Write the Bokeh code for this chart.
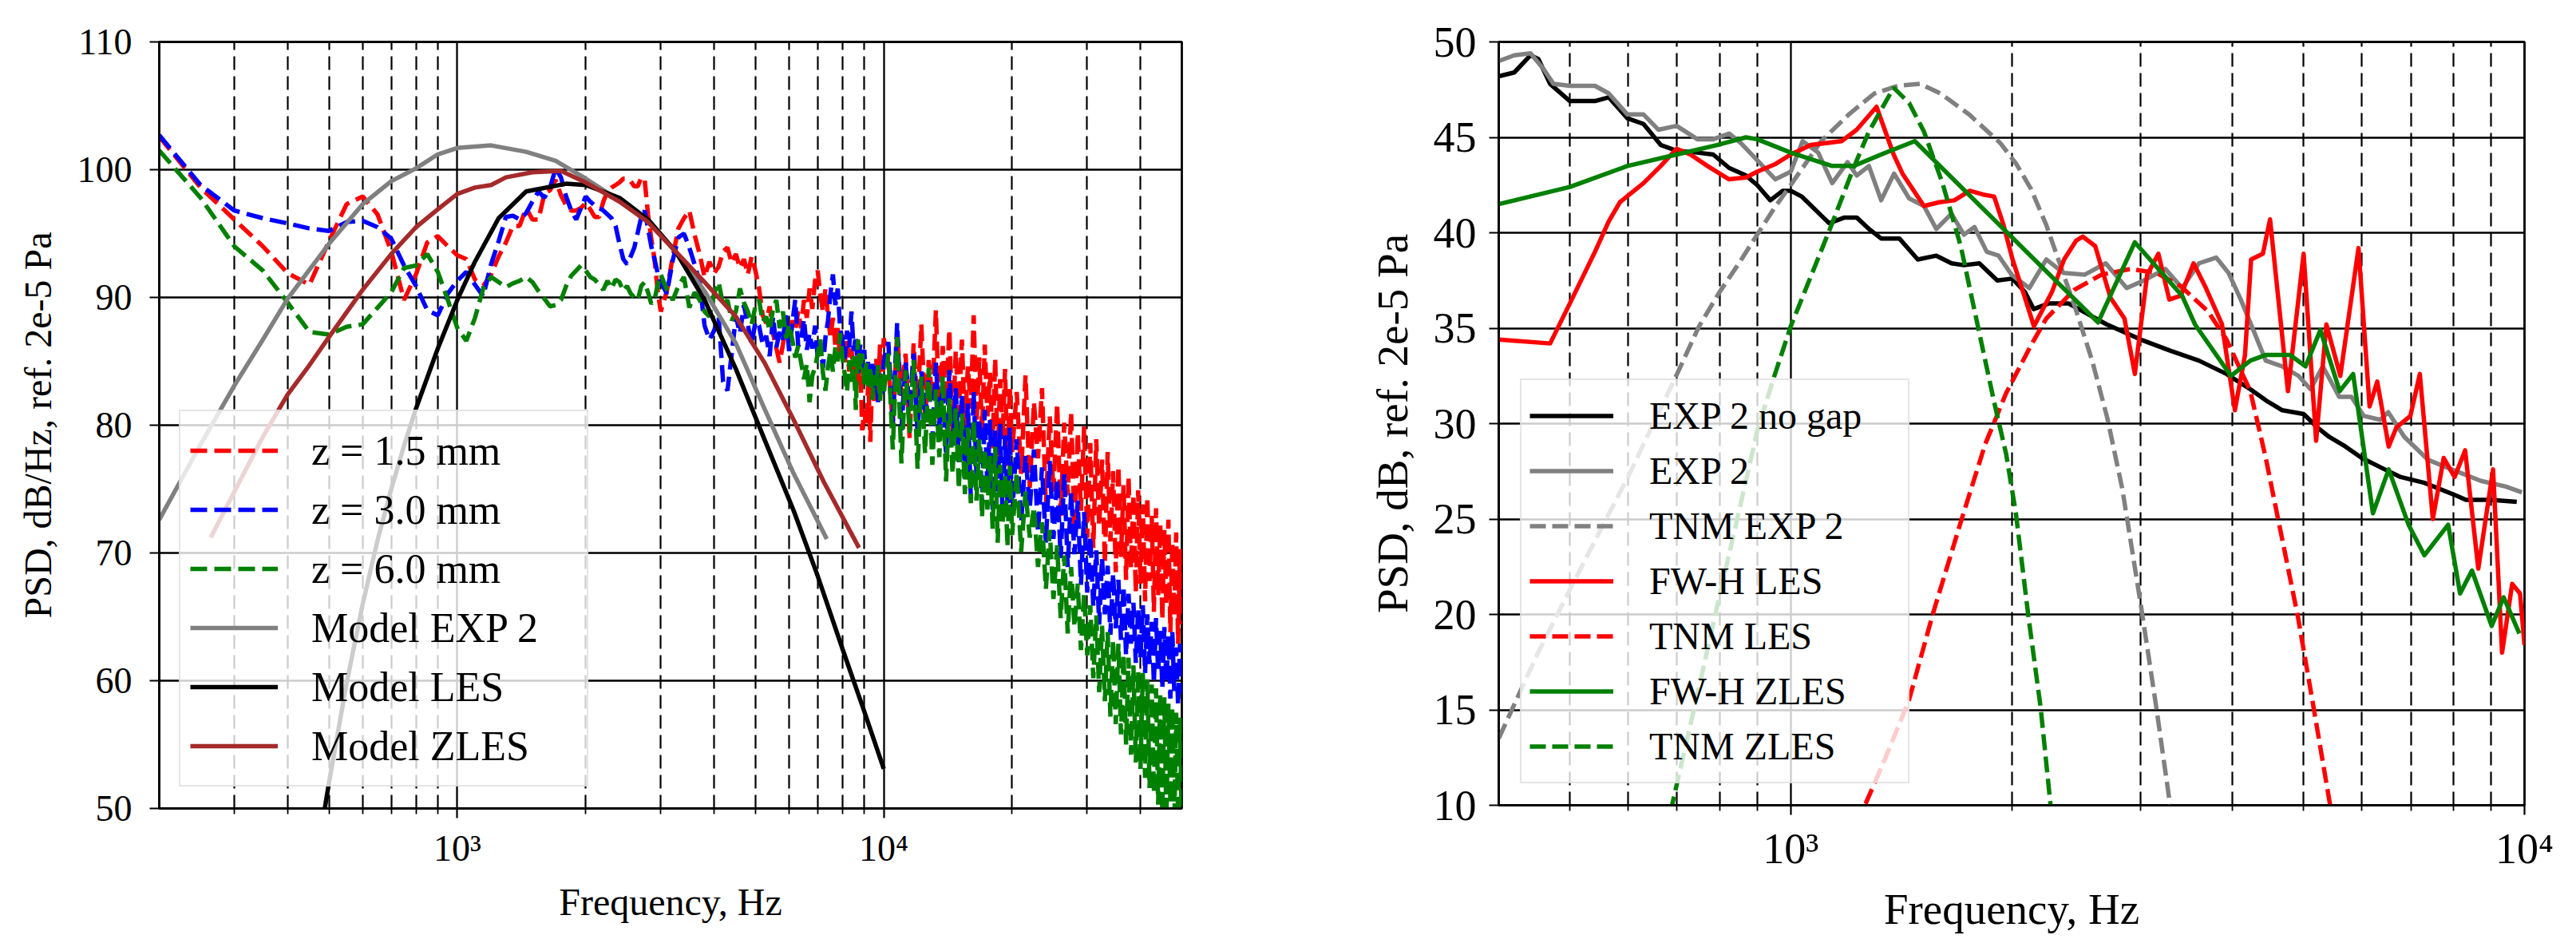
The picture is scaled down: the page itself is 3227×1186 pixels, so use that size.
import numpy as np
from bokeh.plotting import figure
from bokeh.layouts import row
from bokeh.models import Legend, LegendItem, FixedTicker, Range1d
from bokeh.embed import file_html
from bokeh.resources import INLINE

FONT = "Liberation Serif"

# ---------------- left panel data ----------------
freq_seg_a = np.arange(200, 3001, 50)
freq_seg_b = np.arange(3100, 10001, 100)
freq_seg_c1 = np.arange(10250, 20001, 250)
freq_seg_c2 = np.arange(20500, 50001, 500)
freq_exp = np.concatenate([freq_seg_a, freq_seg_b, freq_seg_c1, freq_seg_c2])

z15_a = [102.6, 98.6, 96.1, 94.0, 91.9, 91.0, 94.4, 97.3, 97.9, 96.5,
         93.6, 89.8, 91.8, 94.3, 94.8, 94.0, 93.3, 93.0, 91.4, 90.9,
         91.8, 93.2, 94.3, 95.6, 95.6, 97.0, 96.1, 96.1, 98.1, 98.4,
         99.2, 98.0, 97.2, 96.8, 96.8, 97.0, 97.4, 96.9, 96.3, 96.3,
         97.5, 98.3, 98.6, 98.8, 99.0, 99.3, 99.3, 99.1, 98.7, 98.7,
         99.4, 99.2, 96.5, 94.6, 93.0, 90.5, 88.9]
z15_b = [90.5, 93.2, 95.4, 96.2, 96.8, 94.9, 93.4, 91.6, 92.8, 91.9,
         92.4, 93.6, 93.9, 92.7, 93.4, 92.3, 93.0, 91.8, 93.2, 92.1,
         90.7, 88.6, 88.0, 89.3, 87.2, 86.0, 84.9, 86.3, 87.8, 86.9,
         88.2, 87.4, 88.9, 87.6, 89.8, 88.4, 90.7, 89.1, 91.3, 92.1,
         90.2, 88.9, 90.7, 88.5, 86.9, 88.4, 86.2, 87.6, 85.3, 87.1,
         84.8, 86.7, 84.2, 86.0, 83.6, 85.4, 82.9, 85.4, 79.6, 81.2,
         80.0, 83.5, 78.7, 84.1, 81.9, 85.2, 82.4, 86.3, 83.0, 86.8]
z15_c1 = [84.8, 80.1, 87.2, 82.3, 85.6, 79.0, 86.4, 81.2, 87.9, 80.6,
          85.1, 82.0, 89.0, 80.4, 86.2, 81.7, 87.5, 79.3, 85.8, 80.9,
          86.7, 79.8, 84.6, 81.3, 88.6, 80.2, 85.3, 79.5, 86.3, 80.7,
          84.1, 78.2, 85.2, 77.5, 83.6, 79.1, 84.4, 76.8, 83.0, 77.9]
z15_c2 = [82.6, 76.2, 83.9, 75.1, 81.8, 77.4, 82.9, 73.6, 80.7, 74.8,
          81.7, 72.9, 80.2, 74.5, 81.0, 71.8, 79.4, 73.3, 79.9, 71.2,
          78.6, 70.4, 78.9, 72.1, 77.3, 69.2, 77.9, 70.9, 76.4, 68.5,
          76.8, 69.7, 75.3, 67.9, 76.0, 68.8, 74.6, 66.9, 74.9, 67.6,
          73.8, 66.2, 74.4, 67.8, 72.9, 65.4, 73.5, 66.7, 72.2, 64.8,
          71.8, 65.9, 72.6, 63.8, 70.9, 65.1, 71.6, 62.9, 70.3, 64.4]

z30_a = [102.7, 98.8, 96.8, 96.2, 95.8, 95.4, 95.2, 95.9, 96.0, 95.5,
         94.6, 92.5, 90.9, 89.0, 88.6, 90.3, 91.3, 92.0, 91.0, 90.1,
         92.6, 94.4, 96.3, 96.4, 96.1, 96.6, 97.5, 98.3, 97.8, 98.6,
         100.1, 99.4, 97.9, 96.8, 96.1, 97.0, 97.9, 97.5, 97.2, 97.0,
         96.8, 96.5, 96.2, 95.6, 94.2, 93.0, 92.6, 93.2, 93.9, 95.1,
         96.3, 96.8, 95.4, 94.0, 93.0, 91.9, 91.2]
z30_b = [90.3, 92.9, 94.7, 95.0, 93.9, 92.6, 91.2, 87.8, 86.7, 87.4,
         88.5, 83.4, 82.7, 85.6, 88.5, 87.2, 89.4, 87.9, 86.3, 88.1,
         87.8, 86.3, 87.0, 85.4, 88.5, 86.1, 87.3, 86.7, 88.6, 85.8,
         87.9, 89.8, 86.2, 86.7, 88.3, 85.9, 87.2, 86.0, 87.8, 85.3,
         86.4, 84.5, 86.9, 88.2, 90.3, 91.8, 89.4, 90.7, 87.6, 86.7,
         85.2, 87.4, 86.1, 88.9, 85.8, 87.0, 84.1, 86.3, 84.5, 85.9,
         83.2, 85.1, 83.4, 84.8, 82.6, 84.9, 81.8, 84.2, 82.2, 85.0]
z30_c1 = [86.5, 80.2, 88.0, 79.6, 84.9, 81.3, 85.6, 79.4, 84.2, 80.5,
          83.6, 78.8, 84.9, 79.9, 83.1, 77.6, 84.3, 78.4, 82.9, 77.1,
          82.4, 75.8, 81.7, 74.3, 82.6, 76.1, 80.5, 73.7, 81.2, 75.0,
          80.4, 73.4, 79.6, 74.8, 80.1, 72.6, 79.2, 73.9, 79.8, 72.9]
z30_c2 = [78.9, 72.4, 77.6, 73.5, 78.1, 71.6, 76.7, 70.8, 77.2, 71.1,
          75.8, 69.6, 76.2, 68.9, 74.7, 69.9, 74.1, 67.5, 73.2, 66.9,
          71.3, 65.8, 70.2, 64.4, 69.6, 65.2, 69.0, 63.6, 68.4, 64.1,
          67.9, 63.2, 67.4, 62.0, 66.8, 62.9, 66.1, 61.4, 65.7, 61.8,
          65.9, 60.6, 65.2, 61.3, 64.6, 59.8, 64.9, 60.7, 63.9, 59.4,
          64.2, 59.9, 63.5, 58.6, 63.8, 59.2, 62.6, 58.1, 62.9, 59.0]

z60_a = [101.5, 97.8, 94.0, 92.1, 89.6, 87.3, 87.1, 87.7, 87.9, 89.2,
         90.4, 92.3, 92.5, 93.4, 92.0, 89.8, 87.6, 86.6, 88.4, 90.7,
         91.6, 91.2, 90.8, 91.1, 91.3, 91.6, 91.2, 90.5, 89.9, 89.3,
         89.4, 89.8, 90.9, 91.7, 92.1, 92.5, 92.1, 91.6, 91.4, 91.0,
         90.6, 91.3, 90.7, 91.4, 91.2, 90.5, 90.9, 90.3, 90.0, 89.8,
         90.9, 91.2, 90.4, 89.5, 89.8, 91.0, 91.8]
z60_b = [90.6, 89.8, 90.9, 91.6, 89.2, 90.4, 89.8, 88.9, 88.5, 90.3,
         91.2, 89.4, 89.8, 88.2, 88.9, 90.7, 89.6, 88.9, 87.9, 89.3,
         89.8, 88.1, 88.5, 87.4, 89.1, 89.8, 87.6, 88.9, 86.8, 87.9,
         86.7, 85.3, 86.2, 84.9, 83.6, 84.8, 81.8, 83.9, 84.5, 85.6,
         86.7, 84.1, 82.7, 84.6, 85.8, 84.2, 86.1, 85.0, 87.2, 85.3,
         84.0, 82.6, 85.1, 83.4, 85.4, 81.2, 86.7, 84.3, 85.6, 83.1,
         84.9, 82.8, 84.6, 82.0, 83.9, 83.1, 84.7, 81.9, 84.0, 82.5]
z60_c1 = [85.6, 78.1, 86.9, 77.0, 84.3, 79.4, 85.1, 76.6, 83.8, 77.8,
          84.5, 76.9, 82.8, 77.5, 83.9, 75.6, 82.1, 76.2, 81.3, 75.0,
          80.9, 74.6, 79.8, 73.9, 80.4, 74.1, 78.9, 72.8, 78.2, 73.4,
          77.6, 71.9, 78.3, 70.8, 76.9, 72.2, 76.1, 70.5, 76.8, 71.4]
z60_c2 = [76.3, 70.1, 74.8, 71.2, 73.6, 68.9, 72.4, 67.2, 71.8, 66.4,
          70.6, 64.9, 69.8, 63.7, 68.9, 64.2, 67.6, 62.4, 66.8, 62.0,
          65.9, 60.2, 65.1, 59.1, 64.3, 58.4, 63.8, 57.2, 63.2, 56.6,
          62.9, 55.8, 62.1, 55.0, 61.8, 54.2, 61.2, 53.6, 60.8, 53.1,
          60.6, 52.4, 60.1, 51.6, 59.7, 51.2, 59.4, 50.3, 59.0, 49.6,
          58.7, 49.1, 58.2, 50.4, 57.9, 48.6, 57.5, 49.3, 57.1, 48.2]

z15_db = z15_a + z15_b + z15_c1 + z15_c2
z30_db = z30_a + z30_b + z30_c1 + z30_c2
z60_db = z60_a + z60_b + z60_c1 + z60_c2
for arr in (z15_db, z30_db, z60_db):
    assert len(arr) == len(freq_exp), (len(arr), len(freq_exp))

model_exp2_f = [200, 250, 300, 350, 400, 500, 600, 700, 800, 900, 1000, 1200,
                1450, 1700, 2000, 2400, 2800, 3250, 3800, 4500, 5250, 6150, 7350]
model_exp2_db = [72.6, 78.5, 83.1, 86.7, 89.9, 94.2, 97.3, 99.1, 100.1, 101.2, 101.7, 101.9,
                 101.4, 100.7, 99.3, 97.6, 95.9, 93.6, 90.5, 86.4, 81.3, 76.2, 71.1]

model_les_f = [470, 500, 550, 600, 650, 700, 750, 800, 900, 1000, 1100, 1250, 1450,
               1800, 2000, 2400, 2800, 3250, 3800, 4500, 5250, 6150, 7000, 8000, 9000, 10000]
model_les_db = [46.5, 52.0, 59.8, 66.0, 71.0, 75.0, 78.4, 81.3, 86.0, 89.8, 92.8, 96.2, 98.3,
                98.9, 98.8, 97.8, 96.1, 93.6, 89.8, 84.4, 78.9, 73.3, 68.2, 62.5, 57.6, 53.1]

model_zles_f = [264, 300, 350, 400, 450, 500, 600, 700, 800, 900, 1000, 1100, 1200,
                1300, 1500, 1750, 2000, 2400, 2800, 3250, 3800, 4500, 5250, 6150, 7250, 8750]
model_zles_db = [71.2, 74.8, 79.1, 82.4, 84.7, 86.9, 90.6, 93.4, 95.5, 96.9, 98.1, 98.6, 98.8,
                 99.4, 99.8, 99.9, 99.0, 97.5, 95.9, 93.6, 91.2, 88.5, 84.9, 80.4, 75.5, 70.4]

# ---------------- right panel data ----------------
nogap_f = [400, 420, 442, 453, 470, 500, 541, 565, 599, 630, 665, 699, 746, 784, 824,
           869, 900, 938, 975, 1000, 1035, 1128, 1184, 1230, 1278, 1328, 1406, 1490, 1579, 1656,
           1722, 1807, 1912, 2005, 2085, 2143, 2249, 2389, 2695, 3000, 3300, 3600, 3926, 4230, 4448,
           4676, 5000, 5220, 5419, 5700, 6000, 6450, 6780, 7300, 8100, 8320, 9000, 9760]
nogap_db = [48.2, 48.4, 49.3, 49.1, 47.8, 46.9, 46.9, 47.1, 46.0, 45.7, 44.6, 44.3, 44.2, 44.1, 43.4,
            43.0, 42.5, 41.7, 42.2, 42.2, 41.9, 40.5, 40.8, 40.8, 40.2, 39.7, 39.7, 38.6, 38.8, 38.4,
            38.3, 38.4, 37.5, 37.6, 36.9, 36.0, 36.3, 36.3, 35.2, 34.4, 33.8, 33.3, 32.6, 31.8, 31.2,
            30.7, 30.5, 29.8, 29.3, 28.8, 28.2, 27.6, 27.2, 26.9, 26.2, 26.0, 26.0, 25.9]

exp2_f = [400, 420, 442, 460, 475, 500, 541, 565, 599, 630, 660, 699, 746, 784, 824,
          855, 900, 953, 1000, 1038, 1090, 1139, 1195, 1230, 1278, 1328, 1383, 1450, 1519, 1579,
          1656, 1722, 1780, 1850, 1920, 2000, 2114, 2230, 2352, 2514, 2687, 2870, 3028, 3240, 3415,
          3600, 3800, 3950, 4105, 4270, 4440, 4676, 4920, 5110, 5310, 5590, 5810, 6040, 6360, 6520,
          6860, 7390, 7960, 8720, 9430, 9920]
exp2_db = [49.0, 49.3, 49.4, 48.6, 47.8, 47.7, 47.7, 47.3, 46.2, 46.2, 45.4, 45.6, 44.9, 44.9, 45.2,
           44.7, 43.8, 42.8, 43.2, 44.8, 44.2, 42.6, 43.7, 43.0, 43.5, 41.7, 43.1, 41.8, 41.4, 40.2,
           41.0, 39.9, 40.3, 39.0, 38.8, 37.8, 37.1, 38.6, 37.9, 37.8, 38.4, 37.1, 37.5, 38.1, 37.1,
           38.4, 38.7, 37.9, 36.5, 34.9, 33.3, 33.0, 32.5, 31.8, 33.0, 31.4, 31.4, 30.4, 30.2, 30.6,
           29.3, 28.1, 27.6, 27.0, 26.7, 26.4]

tnm_exp2_f = [400, 450, 500, 550, 600, 650, 700, 750, 800, 850, 900, 950, 1000, 1100, 1200, 1300,
              1400, 1500, 1600, 1750, 1930, 2030, 2125, 2230, 2340, 2450, 2575, 2700, 2830, 3000,
              3150, 3300]
tnm_exp2_db = [13.5, 17.8, 21.3, 24.4, 27.2, 30.0, 32.6, 35.1, 36.9, 38.4, 39.9, 41.3, 42.5, 44.8,
               46.2, 47.3, 47.7, 47.8, 47.3, 46.2, 44.7, 43.6, 42.3, 40.4, 38.1, 35.9, 33.3, 30.3,
               26.6, 20.5, 15.1, 9.6]

fwh_les_f = [400, 470, 503, 541, 565, 585, 630, 665, 699, 730, 770, 824, 869, 900, 953,
             1000, 1065, 1173, 1230, 1309, 1381, 1420, 1519, 1594, 1671, 1754, 1830, 1893, 1950, 2006,
             2085, 2145, 2270, 2358, 2450, 2500, 2600, 2727, 2850, 2944, 3060, 3170, 3280, 3400, 3540,
             3680, 3870, 4030, 4160, 4240, 4400, 4500, 4760, 5000, 5200, 5370, 5610, 5940, 6150, 6300,
             6530, 6690, 6990, 7200, 7500, 7760, 8030, 8300, 8650, 9060, 9320, 9620, 9860, 10000]
fwh_les_db = [34.4, 34.2, 36.5, 39.0, 40.6, 41.6, 42.6, 43.5, 44.4, 44.1, 43.5, 42.8, 42.9, 43.2, 43.6,
              44.1, 44.6, 44.8, 45.4, 46.6, 44.1, 43.1, 41.4, 41.6, 41.7, 42.2, 42.0, 41.9, 40.4, 38.6,
              36.6, 35.1, 36.9, 38.6, 39.6, 39.8, 39.3, 36.6, 35.5, 32.6, 37.8, 38.9, 36.5, 36.7, 38.4,
              37.1, 35.2, 30.7, 33.6, 38.6, 38.9, 40.7, 31.7, 38.9, 29.1, 35.2, 32.5, 39.2, 30.9, 32.2,
              28.8, 29.8, 30.4, 32.6, 25.0, 28.2, 27.2, 28.6, 22.4, 27.6, 18.0, 21.6, 21.1, 18.4]

tnm_les_f = [1230, 1350, 1449, 1564, 1710, 1840, 1966, 2125, 2229, 2433, 2650, 2900, 3150, 3400,
             3700, 3926, 4230, 4440, 4615, 4910, 5160, 5423, 5480]
tnm_les_db = [9.0, 12.6, 15.5, 20.1, 25.0, 28.9, 31.6, 34.1, 35.5, 37.0, 37.8, 38.1, 37.9, 37.2,
              35.9, 34.4, 31.7, 28.2, 25.0, 19.9, 15.1, 10.2, 9.2]

fwh_zles_f = [400, 500, 599, 699, 794, 869, 900, 1000, 1139, 1218, 1328, 1476, 2623, 2944, 3415,
              3555, 3980, 4230, 4446, 4790, 5030, 5270, 5600, 5840, 6215, 6530, 6950, 7304, 7870,
              8170, 8480, 9020, 9366, 9840]
fwh_zles_db = [41.5, 42.4, 43.5, 44.1, 44.6, 45.0, 44.9, 44.2, 43.5, 43.5, 44.1, 44.8, 35.3, 39.5, 36.7,
               35.2, 32.5, 33.3, 33.6, 33.6, 33.0, 34.9, 31.7, 32.6, 25.3, 27.6, 24.7, 23.1, 24.7,
               21.1, 22.3, 19.4, 20.9, 19.0]

tnm_zles_f = [675, 750, 800, 850, 900, 950, 1000, 1070, 1139, 1218, 1278, 1381, 1450, 1519, 1610,
              1705, 1806, 1894, 1966, 2027, 2108, 2191, 2275]
tnm_zles_db = [8.5, 16.2, 21.0, 25.4, 29.6, 32.5, 35.1, 37.9, 40.5, 43.4, 45.3, 47.6, 46.8, 45.3, 42.6,
               39.3, 34.8, 31.1, 28.4, 25.3, 19.9, 15.1, 8.9]

left_xticks = [1000, 10000]
left_xminor = [300, 400, 500, 600, 700, 800, 900, 2000, 3000, 4000, 5000, 6000, 7000, 8000, 9000,
               20000, 30000, 40000]
left_yticks = [50, 60, 70, 80, 90, 100, 110]
right_xticks = [1000, 10000]
right_xminor = [500, 600, 700, 800, 900, 2000, 3000, 4000, 5000, 6000, 7000, 8000, 9000]
right_yticks = [10, 15, 20, 25, 30, 35, 40, 45, 50]
xtick_labels = {1000: "10³", 10000: "10⁴"}


def style(p, xticks, xminor, yticks, tick_px, label_px, ylabel, ytick_standoff, ylabel_standoff):
    xt = FixedTicker(ticks=xticks, minor_ticks=xminor)
    yt = FixedTicker(ticks=yticks)
    p.xaxis.ticker = xt
    p.xgrid.ticker = xt
    p.yaxis.ticker = yt
    p.ygrid.ticker = yt
    p.xaxis.major_label_overrides = xtick_labels
    for ax in (p.xaxis, p.yaxis):
        ax.major_label_text_font = FONT
        ax.major_label_text_font_size = tick_px
        ax.major_label_text_color = "black"
        ax.axis_label_text_font = FONT
        ax.axis_label_text_font_size = label_px
        ax.axis_label_text_font_style = "normal"
        ax.axis_label_text_color = "black"
        ax.axis_line_color = "black"
        ax.axis_line_width = 2.5
        ax.major_tick_line_color = "black"
        ax.major_tick_line_width = 2.2
        ax.major_tick_out = 12
        ax.major_tick_in = 0
        ax.minor_tick_line_color = "black"
        ax.minor_tick_line_width = 1.8
        ax.minor_tick_out = 7
        ax.minor_tick_in = 0
    p.yaxis.minor_tick_out = 0
    p.xaxis.axis_label = "Frequency, Hz"
    p.yaxis.axis_label = ylabel
    p.xaxis.major_label_standoff = 12
    p.xaxis.axis_label_standoff = 12
    p.yaxis.major_label_standoff = ytick_standoff
    p.yaxis.axis_label_standoff = ylabel_standoff
    p.xgrid.grid_line_color = "black"
    p.xgrid.grid_line_width = 2.3
    p.xgrid.minor_grid_line_color = "black"
    p.xgrid.minor_grid_line_width = 2.2
    p.xgrid.minor_grid_line_dash = "17 8"
    p.ygrid.grid_line_color = "black"
    p.ygrid.grid_line_width = 2.3
    p.outline_line_color = "black"
    p.outline_line_width = 2.8
    p.outline_line_alpha = 1.0
    p.background_fill_color = "white"
    p.border_fill_color = "white"


LW = 5.5
DASH = "21 9"

# ---------------- left figure ----------------
p1 = figure(x_axis_type="log", x_range=Range1d(200, 50000), y_range=Range1d(50, 110),
            frame_width=1281, frame_height=960, min_border_left=199, min_border_right=120,
            min_border_top=49, min_border_bottom=150, output_backend="svg", toolbar_location=None)
style(p1, left_xticks, left_xminor, left_yticks, "46px", "48px",
      "PSD, dB/Hz, ref. 2e-5 Pa", 22, 20)

r_z15 = p1.line(freq_exp, z15_db, line_color="#ff0000", line_width=LW, line_dash=DASH)
r_z30 = p1.line(freq_exp, z30_db, line_color="#0000ff", line_width=LW, line_dash=DASH)
r_z60 = p1.line(freq_exp, z60_db, line_color="#008000", line_width=LW, line_dash=DASH)
r_mexp = p1.line(model_exp2_f, model_exp2_db, line_color="#808080", line_width=LW, line_join="round")
r_mles = p1.line(model_les_f, model_les_db, line_color="black", line_width=LW, line_join="round")
r_mzles = p1.line(model_zles_f, model_zles_db, line_color="#a52a2a", line_width=LW, line_join="round")

leg1 = Legend(items=[
    LegendItem(label="z = 1.5 mm", renderers=[r_z15]),
    LegendItem(label="z = 3.0 mm", renderers=[r_z30]),
    LegendItem(label="z = 6.0 mm", renderers=[r_z60]),
    LegendItem(label="Model EXP 2", renderers=[r_mexp]),
    LegendItem(label="Model LES", renderers=[r_mles]),
    LegendItem(label="Model ZLES", renderers=[r_mzles]),
], location=(25, 27))
leg1.glyph_width = 110
leg1.glyph_height = 74
leg1.label_height = 74
leg1.label_width = 333
leg1.spacing = 0
leg1.padding = 12
leg1.margin = 0
leg1.label_standoff = 42
leg1.label_text_font = FONT
leg1.label_text_font_size = "52px"
leg1.label_text_color = "black"
leg1.border_line_color = "#cccccc"
leg1.border_line_width = 2
leg1.background_fill_alpha = 0.8
p1.add_layout(leg1)

# ---------------- right figure ----------------
p2 = figure(x_axis_type="log", x_range=Range1d(400, 10000), y_range=Range1d(10, 50),
            frame_width=1285, frame_height=956, min_border_left=277, min_border_right=40,
            min_border_top=52, min_border_bottom=150, output_backend="svg", toolbar_location=None)
style(p2, right_xticks, right_xminor, right_yticks, "54px", "55px",
      "PSD, dB, ref. 2e-5 Pa", 16, 18)

RDASH = "20 8"
g_nogap = p2.line(nogap_f, nogap_db, line_color="black", line_width=LW, line_join="round")
g_exp2 = p2.line(exp2_f, exp2_db, line_color="#808080", line_width=LW, line_join="round")
g_tnm_exp2 = p2.line(tnm_exp2_f, tnm_exp2_db, line_color="#808080", line_width=LW, line_dash=RDASH)
g_fwh_les = p2.line(fwh_les_f, fwh_les_db, line_color="#ff0000", line_width=LW, line_join="round")
g_tnm_les = p2.line(tnm_les_f, tnm_les_db, line_color="#ff0000", line_width=LW, line_dash=RDASH)
g_fwh_zles = p2.line(fwh_zles_f, fwh_zles_db, line_color="#008000", line_width=LW, line_join="round")
g_tnm_zles = p2.line(tnm_zles_f, tnm_zles_db, line_color="#008000", line_width=LW, line_dash=RDASH)

leg2 = Legend(items=[
    LegendItem(label="EXP 2 no gap", renderers=[g_nogap]),
    LegendItem(label="EXP 2", renderers=[g_exp2]),
    LegendItem(label="TNM EXP 2", renderers=[g_tnm_exp2]),
    LegendItem(label="FW-H LES", renderers=[g_fwh_les]),
    LegendItem(label="TNM LES", renderers=[g_tnm_les]),
    LegendItem(label="FW-H ZLES", renderers=[g_fwh_zles]),
    LegendItem(label="TNM ZLES", renderers=[g_tnm_zles]),
], location=(27, 27))
leg2.glyph_width = 105
leg2.glyph_height = 69
leg2.label_height = 69
leg2.label_width = 314
leg2.spacing = 0
leg2.padding = 10
leg2.margin = 0
leg2.label_standoff = 45
leg2.label_text_font = FONT
leg2.label_text_font_size = "48px"
leg2.label_text_color = "black"
leg2.border_line_color = "#cccccc"
leg2.border_line_width = 2
leg2.background_fill_alpha = 0.8
p2.add_layout(leg2)

layout = row(p1, p2)
open("out.html", "w").write(file_html(layout, INLINE))
